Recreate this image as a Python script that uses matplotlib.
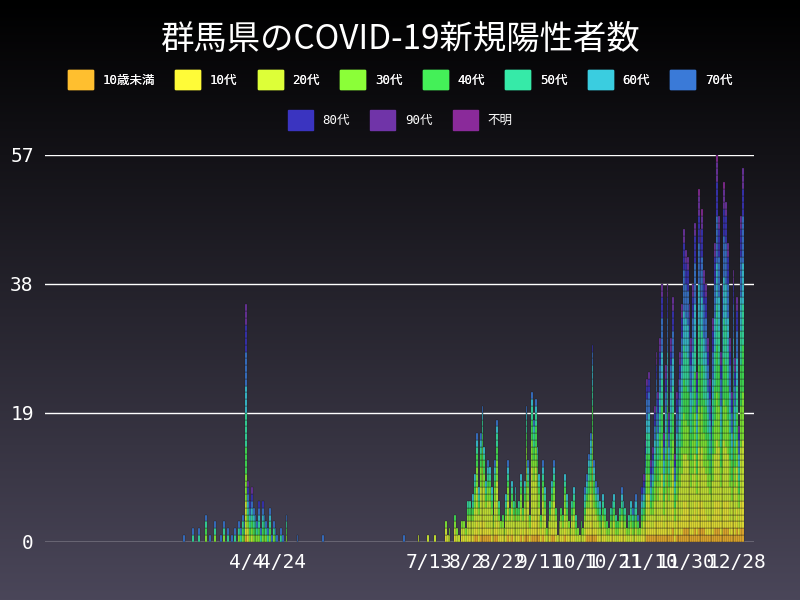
import numpy as np
import pandas as pd
import matplotlib
matplotlib.use('Agg')
from matplotlib import pyplot as plt
from matplotlib.patches import Patch

plt.rcParams['font.family'] = ['Noto Sans CJK JP', 'DejaVu Sans']

# 日別新規陽性者数 (2020/3/1 - 2020/12/31)
mar = [1, 0, 0, 0, 0, 2, 0, 0, 2, 0, 0, 0, 4, 0, 1, 0, 0, 3, 0, 0, 1, 0, 3, 0, 2, 0, 1, 0, 2, 0, 3]
apr = [2, 4, 3, 35, 9, 6, 8, 5, 4, 3, 6, 2, 6, 4, 3, 2, 5, 1, 3, 2, 1, 0, 2, 1, 0, 4, 0, 0, 0, 0]
may = [0, 1, 0, 0, 0, 0, 0, 0, 0, 0, 0, 0, 0, 0, 0, 1, 0, 0, 0, 0, 0, 0, 0, 0, 0, 0, 0, 0, 0, 0, 0]
jun = [0, 0, 0, 0, 0, 0, 0, 0, 0, 0, 0, 0, 0, 0, 0, 0, 0, 0, 0, 0, 0, 0, 0, 0, 0, 0, 0, 0, 1, 0]
jul = [0, 0, 0, 0, 0, 0, 1, 0, 0, 0, 0, 1, 0, 0, 0, 1, 0, 0, 0, 0, 0, 3, 1, 2, 0, 0, 4, 2, 1, 0, 3]
aug = [3, 2, 6, 6, 5, 7, 10, 16, 8, 16, 20, 14, 9, 12, 11, 8, 4, 12, 18, 6, 3, 4, 2, 7, 12, 5, 9, 6, 8, 5, 6]
sep = [10, 5, 9, 20, 12, 4, 22, 18, 21, 14, 10, 4, 12, 8, 2, 3, 6, 9, 12, 5, 1, 3, 5, 4, 10, 7, 3, 2, 6, 8]
oct_ = [4, 2, 1, 3, 2, 8, 10, 13, 16, 29, 12, 9, 8, 6, 4, 7, 5, 3, 2, 5, 6, 7, 4, 3, 5, 8, 6, 5, 2, 4, 6]
nov = [5, 6, 7, 4, 2, 8, 10, 15, 24, 25, 12, 14, 20, 28, 22, 30, 38, 16, 26, 38, 19, 30, 36, 13, 22, 24, 28, 35, 46, 43]
dec = [42, 35, 30, 38, 47, 25, 52, 46, 49, 40, 38, 30, 24, 20, 33, 44, 57, 48, 28, 38, 53, 50, 44, 30, 22, 40, 27, 36, 17, 48, 55]

groups = ['10歳未満', '10代', '20代', '30代', '40代', '50代', '60代', '70代', '80代', '90代', '不明']
colors = ['#ffbf2f', '#fffb38', '#ddff38', '#8bff38', '#44f058', '#36eaa8', '#3acde0',
          '#3a7ad8', '#3a34c0', '#7034a8', '#8a2a9a']

# 期間ごとの年代構成比 (%) 画像の色から読み取った目安
share_spring = [2, 3, 10, 12, 12, 14, 12, 14, 12, 8, 1]
share_summer = [5, 12, 34, 16, 12, 9, 6, 4, 1, 1, 0]
share_autumn = [5, 10, 26, 14, 14, 11, 10, 6, 3, 1, 0]
share_winter = [4, 8, 16, 12, 12, 11, 11, 12, 8, 5, 1]

totals = mar + apr + may + jun + jul + aug + sep + oct_ + nov + dec
dates = pd.date_range('2020-03-01', periods=len(totals), freq='D')


def split(total, share):
    raw = np.array(share, dtype=float) / sum(share) * total
    n = np.floor(raw).astype(int)
    rest = total - n.sum()
    order = np.argsort(-(raw - n))
    n[order[:rest]] += 1
    return n


xs, bottoms, cols = [], [], []
for d, t in zip(dates, totals):
    if d.month <= 6:
        sh = share_spring
    elif d.month <= 9:
        sh = share_summer
    elif d.month <= 10:
        sh = share_autumn
    else:
        sh = share_winter
    counts = split(t, sh)
    b = 0
    for gi, c in enumerate(counts):
        for _ in range(c):
            xs.append(d)
            bottoms.append(b)
            cols.append(colors[gi])
            b += 1

fig = plt.figure(figsize=(8, 6), dpi=100)
bg = fig.add_axes([0, 0, 1, 1])
grad = np.linspace(0, 1, 256).reshape(-1, 1)
bg.imshow(grad, aspect='auto', extent=[0, 1, 0, 1],
          cmap=matplotlib.colors.LinearSegmentedColormap.from_list('bg', ['#000000', '#4a4659']))
bg.axis('off')

ax = fig.add_axes([0.056, 0.097, 0.886, 0.645])
ax.patch.set_alpha(0)
ax.bar(xs, [1] * len(xs), bottom=bottoms, width=1.0, color=cols,
       edgecolor='#1a1a1a', linewidth=0.25, zorder=3)

ax.set_ylim(0, 57)
ax.set_yticks([0, 19, 38, 57])
ax.set_xlim(pd.Timestamp('2019-12-16'), pd.Timestamp('2021-01-06'))
tick_dates = ['2020-04-04', '2020-04-24', '2020-07-13', '2020-08-02', '2020-08-22', '2020-09-11',
              '2020-10-01', '2020-10-21', '2020-11-10', '2020-11-30', '2020-12-28']
ax.set_xticks(pd.to_datetime(tick_dates))
ax.set_xticklabels([f'{pd.Timestamp(t).month}/{pd.Timestamp(t).day}' for t in tick_dates])
ax.grid(axis='y', color='white', linewidth=1, zorder=1)
for s in ax.spines.values():
    s.set_visible(False)
ax.tick_params(colors='white', length=0, labelsize=14, pad=8)
for lab in ax.get_xticklabels() + ax.get_yticklabels():
    lab.set_family('DejaVu Sans Mono')

fig.text(0.5, 0.935, '群馬県のCOVID-19新規陽性者数', color='white', fontsize=24, ha='center', va='center')

h1 = [Patch(color=c, label=g) for c, g in zip(colors[:8], groups[:8])]
h2 = [Patch(color=c, label=g) for c, g in zip(colors[8:], groups[8:])]
lp = dict(frameon=False, labelcolor='white', handlelength=2, handleheight=2, columnspacing=1.6,
          prop={'family': ['DejaVu Sans Mono', 'Noto Sans CJK JP'], 'size': 9})
leg1 = fig.legend(handles=h1, loc='center', bbox_to_anchor=(0.5, 0.867), ncol=8, **lp)
fig.add_artist(leg1)
fig.legend(handles=h2, loc='center', bbox_to_anchor=(0.5, 0.8), ncol=3, **lp)

fig.savefig('out.png', dpi=100)
